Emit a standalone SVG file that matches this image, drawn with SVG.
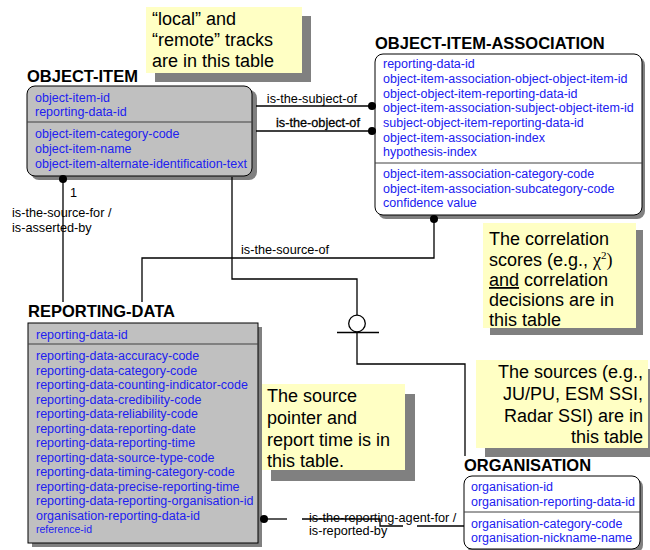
<svg xmlns="http://www.w3.org/2000/svg" width="650" height="550" viewBox="0 0 650 550">
  <style>
    text { font-family: "Liberation Sans", Arial, sans-serif; }
    .title { font-size: 16.5px; font-weight: bold; fill: #000; }
    .attr { font-size: 12.5px; fill: #2020f0; }
    .small { font-size: 10.5px; fill: #2020f0; }
    .rel { font-size: 12.7px; fill: #000; }
    .note { font-size: 18px; fill: #000; }
    .ent-gray { fill: #c0c0c0; stroke: #000; stroke-width: 1; }
    .ent-white { fill: #fff; stroke: #000; stroke-width: 1; }
    .shadow { fill: #808080; }
    .notebox { fill: #ffffc4; }
    .div { stroke: #404040; stroke-width: 1; }
    .line { fill: none; stroke: #000; stroke-width: 1.3; }
    .dot { fill: #000; }
  </style>

  <!-- annotation: tracks -->
  <g id="note-tracks">
    <rect class="shadow" x="155" y="16" width="156" height="66"/>
    <rect class="notebox" x="146" y="7" width="156" height="66"/>
    <text class="note" x="152" y="25">“local” and</text>
    <text class="note" x="152" y="46">“remote” tracks</text>
    <text class="note" x="152" y="67">are in this table</text>
  </g>

  <!-- entity OBJECT-ITEM -->
  <g id="object-item">
    <text class="title" x="27" y="82">OBJECT-ITEM</text>
    <rect class="shadow" x="31" y="90" width="226" height="90" rx="8"/>
    <rect class="ent-gray" x="27" y="86" width="225" height="90" rx="8"/>
    <line class="div" x1="27" y1="122" x2="252" y2="122"/>
    <text class="attr" x="35" y="102">object-item-id</text>
    <text class="attr" x="35" y="116">reporting-data-id</text>
    <text class="attr" x="35" y="138">object-item-category-code</text>
    <text class="attr" x="35" y="153">object-item-name</text>
    <text class="attr" x="35" y="168">object-item-alternate-identification-text</text>
  </g>

  <!-- entity OBJECT-ITEM-ASSOCIATION -->
  <g id="object-item-association">
    <text class="title" x="375" y="49">OBJECT-ITEM-ASSOCIATION</text>
    <rect class="shadow" x="378" y="57" width="267" height="162" rx="8"/>
    <rect class="ent-white" x="375" y="54" width="267" height="161" rx="8"/>
    <line class="div" x1="375" y1="163" x2="642" y2="163"/>
    <text class="attr" x="383" y="68">reporting-data-id</text>
    <text class="attr" x="383" y="83">object-item-association-object-object-item-id</text>
    <text class="attr" x="383" y="97.5">object-object-item-reporting-data-id</text>
    <text class="attr" x="383" y="112">object-item-association-subject-object-item-id</text>
    <text class="attr" x="383" y="127">subject-object-item-reporting-data-id</text>
    <text class="attr" x="383" y="141.5">object-item-association-index</text>
    <text class="attr" x="383" y="156">hypothesis-index</text>
    <text class="attr" x="383" y="178">object-item-association-category-code</text>
    <text class="attr" x="383" y="193">object-item-association-subcategory-code</text>
    <text class="attr" x="383" y="207">confidence value</text>
  </g>

  <!-- annotation: correlation -->
  <g id="note-correlation">
    <rect class="shadow" x="490" y="230" width="153" height="105"/>
    <rect class="notebox" x="483" y="223" width="153" height="105"/>
    <text class="note" x="489" y="245">The correlation</text>
    <text class="note" x="489" y="266">scores (e.g., <tspan font-family="'Liberation Serif', 'Times New Roman', serif">χ<tspan font-size="11" dy="-7">2</tspan><tspan dy="7">)</tspan></tspan></text>
    <text class="note" x="489" y="286"><tspan text-decoration="underline">and</tspan> correlation</text>
    <text class="note" x="489" y="306">decisions are in</text>
    <text class="note" x="489" y="326">this table</text>
  </g>

  <!-- entity REPORTING-DATA -->
  <g id="reporting-data">
    <text class="title" x="28" y="317">REPORTING-DATA</text>
    <rect class="shadow" x="32" y="327" width="230" height="220"/>
    <rect class="ent-gray" x="28" y="323" width="230" height="220"/>
    <line class="div" x1="28" y1="344" x2="258" y2="344"/>
    <text class="attr" x="36" y="339">reporting-data-id</text>
    <text class="attr" x="36" y="360">reporting-data-accuracy-code</text>
    <text class="attr" x="36" y="374.5">reporting-data-category-code</text>
    <text class="attr" x="36" y="389">reporting-data-counting-indicator-code</text>
    <text class="attr" x="36" y="403.5">reporting-data-credibility-code</text>
    <text class="attr" x="36" y="418">reporting-data-reliability-code</text>
    <text class="attr" x="36" y="432.5">reporting-data-reporting-date</text>
    <text class="attr" x="36" y="447">reporting-data-reporting-time</text>
    <text class="attr" x="36" y="461.5">reporting-data-source-type-code</text>
    <text class="attr" x="36" y="476">reporting-data-timing-category-code</text>
    <text class="attr" x="36" y="490.5">reporting-data-precise-reporting-time</text>
    <text class="attr" x="36" y="505">reporting-data-reporting-organisation-id</text>
    <text class="attr" x="36" y="519.5">organisation-reporting-data-id</text>
    <text class="small" x="36" y="533">reference-id</text>
  </g>

  <!-- annotation: source pointer -->
  <g id="note-source-pointer">
    <rect class="shadow" x="271" y="394" width="144" height="87"/>
    <rect class="notebox" x="262" y="384" width="143" height="86"/>
    <text class="note" x="267" y="402">The source</text>
    <text class="note" x="267" y="424">pointer and</text>
    <text class="note" x="267" y="446">report time is in</text>
    <text class="note" x="267" y="467">this table.</text>
  </g>

  <!-- annotation: sources -->
  <g id="note-sources">
    <rect class="shadow" x="485" y="369" width="165" height="88"/>
    <rect class="notebox" x="476" y="360" width="172" height="88"/>
    <text class="note" x="643" y="378" text-anchor="end">The sources (e.g.,</text>
    <text class="note" x="643" y="400" text-anchor="end">JU/PU, ESM SSI,</text>
    <text class="note" x="643" y="422" text-anchor="end">Radar SSI) are in</text>
    <text class="note" x="643" y="443" text-anchor="end">this table</text>
  </g>

  <!-- entity ORGANISATION -->
  <g id="organisation">
    <text class="title" x="464" y="471">ORGANISATION</text>
    <rect class="shadow" x="467" y="479" width="176" height="74" rx="8"/>
    <rect class="ent-white" x="464" y="476" width="176" height="73" rx="8"/>
    <line class="div" x1="464" y1="512" x2="640" y2="512"/>
    <text class="attr" x="471" y="491">organisation-id</text>
    <text class="attr" x="471" y="505.5">organisation-reporting-data-id</text>
    <text class="attr" x="471" y="527.5">organisation-category-code</text>
    <text class="attr" x="471" y="542">organisation-nickname-name</text>
  </g>

  <!-- relationships -->
  <g id="connectors">
    <!-- OBJECT-ITEM -> OBJECT-ITEM-ASSOCIATION (subject / object) -->
    <line class="line" x1="256" y1="106" x2="372" y2="106"/>
    <circle class="dot" cx="372" cy="106" r="4"/>
    <text class="rel" x="312" y="103" text-anchor="middle">is-the-subject-of</text>
    <line class="line" x1="256" y1="131" x2="372" y2="131"/>
    <circle class="dot" cx="372" cy="131" r="4"/>
    <text class="rel" x="318" y="127" text-anchor="middle" stroke="#000" stroke-width="0.3">is-the-object-of</text>

    <!-- REPORTING-DATA -> OBJECT-ITEM -->
    <line class="line" x1="63" y1="177" x2="63" y2="302"/>
    <circle class="dot" cx="63" cy="179" r="4"/>
    <text class="rel" x="70" y="197">1</text>
    <text class="rel" x="12" y="217">is-the-source-for /</text>
    <text class="rel" x="12" y="232">is-asserted-by</text>

    <!-- REPORTING-DATA -> OBJECT-ITEM-ASSOCIATION -->
    <polyline class="line" points="142,302 142,258 434,258 434,217"/>
    <circle class="dot" cx="434" cy="219" r="4"/>
    <text class="rel" x="241" y="254">is-the-source-of</text>

    <!-- OBJECT-ITEM subtype link to ORGANISATION -->
    <polyline class="line" points="232,177 232,279 357,279 357,315"/>
    <circle cx="357" cy="323.5" r="8.3" fill="#fff" stroke="#000" stroke-width="1.3"/>
    <line class="line" x1="337" y1="332.5" x2="379" y2="332.5"/>
    <polyline class="line" points="357,332 357,364 465,364 465,456"/>

    <!-- REPORTING-DATA -> ORGANISATION -->
    <circle class="dot" cx="264" cy="519" r="4"/>
    <line class="line" x1="264" y1="519" x2="287" y2="519"/>
    <polyline class="line" points="302,519 380,519 380,526 403,526"/>
    <line class="line" x1="417" y1="526" x2="464" y2="526"/>
    <text class="rel" x="309" y="522">is-the-reporting-agent-for /</text>
    <text class="rel" x="309" y="535">is-reported-by</text>
  </g>
</svg>
